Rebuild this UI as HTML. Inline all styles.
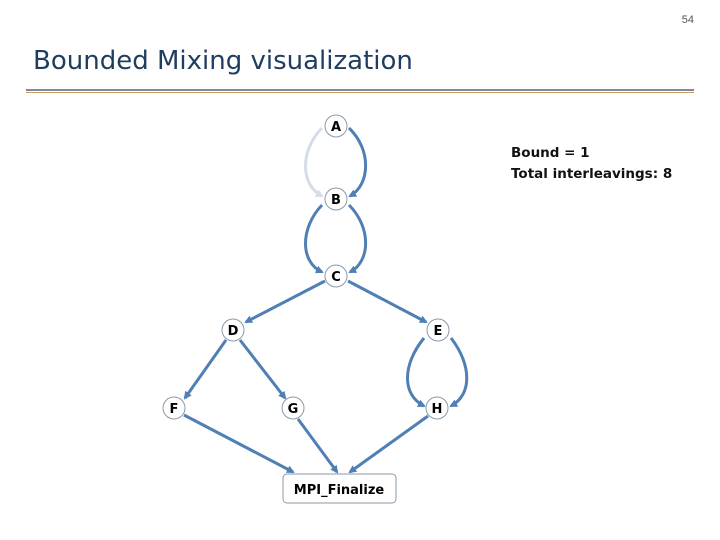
<!DOCTYPE html>
<html><head><style>
body{margin:0;width:720px;height:540px;background:#fff;position:relative;font-family:"Liberation Sans",sans-serif;overflow:hidden}
.t{position:absolute;left:33px;top:46px;font-size:29px;color:#1f3d5f;font-family:"DejaVu Sans","Liberation Sans",sans-serif;font-size:26px}
.n{position:absolute;right:26px;top:14px;font-size:11px;color:#555}
.b{position:absolute;left:511px;top:143px;font-size:14px;font-weight:bold;line-height:21px;color:#111;font-family:"DejaVu Sans",sans-serif;font-size:13.5px}
</style></head><body>
<div class="n">54</div>
<div class="t">Bounded Mixing visualization</div>
<div style="position:absolute;left:26px;top:89px;width:668px;height:2px;background:#7f8a99"></div>
<div style="position:absolute;left:26px;top:92px;width:668px;height:1px;background:#d0a060"></div>
<div class="b">Bound = 1<br>Total interleavings: 8</div>
<svg width="720" height="540" style="position:absolute;left:0;top:0">
<defs>
<marker id="m" markerWidth="8" markerHeight="8" refX="6" refY="4" orient="auto" markerUnits="userSpaceOnUse" viewBox="0 0 8 8"><path d="M0,0L8,4L0,8z" fill="#4f7fb5"/></marker>
<marker id="l" markerWidth="8" markerHeight="8" refX="6" refY="4" orient="auto" markerUnits="userSpaceOnUse" viewBox="0 0 8 8"><path d="M0,0L8,4L0,8z" fill="#d5dde8"/></marker>
</defs>
<g fill="none" stroke-width="3" stroke="#4f7fb5">
<path d="M322,128 C300,150 300,185 322,196" stroke="#d5dde8" marker-end="url(#l)"/>
<path d="M349,128 C372,150 370,185 350,196" marker-end="url(#m)"/>
<path d="M322,205 C300,228 300,262 322,272" marker-end="url(#m)"/>
<path d="M349,205 C372,228 370,262 350,272" marker-end="url(#m)"/>
<path d="M325,281 L246,322" marker-end="url(#m)"/>
<path d="M348,281 L426,322" marker-end="url(#m)"/>
<path d="M226,340 L185,398" marker-end="url(#m)"/>
<path d="M240,340 L285,398" marker-end="url(#m)"/>
<path d="M424,338 C402,365 402,395 424,406" marker-end="url(#m)"/>
<path d="M451,338 C472,365 472,395 451,406" marker-end="url(#m)"/>
<path d="M184,415 L293,472" marker-end="url(#m)"/>
<path d="M298,419 L337,472" marker-end="url(#m)"/>
<path d="M428,416 L350,472" marker-end="url(#m)"/>
</g>
<g fill="#fff" stroke="#8a9aa8" stroke-width="1">
<circle cx="336" cy="126" r="11"/><circle cx="336" cy="199" r="11"/><circle cx="336" cy="276" r="11"/>
<circle cx="233" cy="330" r="11"/><circle cx="438" cy="330" r="11"/>
<circle cx="174" cy="408" r="11"/><circle cx="293" cy="408" r="11"/><circle cx="437" cy="408" r="11"/>
<rect x="283" y="474" width="113" height="29" rx="4"/>
</g>
<g font-family="DejaVu Sans,Liberation Sans,sans-serif" font-weight="bold" font-size="13" text-anchor="middle" fill="#000">
<text x="336" y="131">A</text><text x="336" y="204">B</text><text x="336" y="281">C</text>
<text x="233" y="335">D</text><text x="438" y="335">E</text>
<text x="174" y="413">F</text><text x="293" y="413">G</text><text x="437" y="413">H</text>
<text x="339" y="494">MPI_Finalize</text>
</g>
</svg>
</body></html>
